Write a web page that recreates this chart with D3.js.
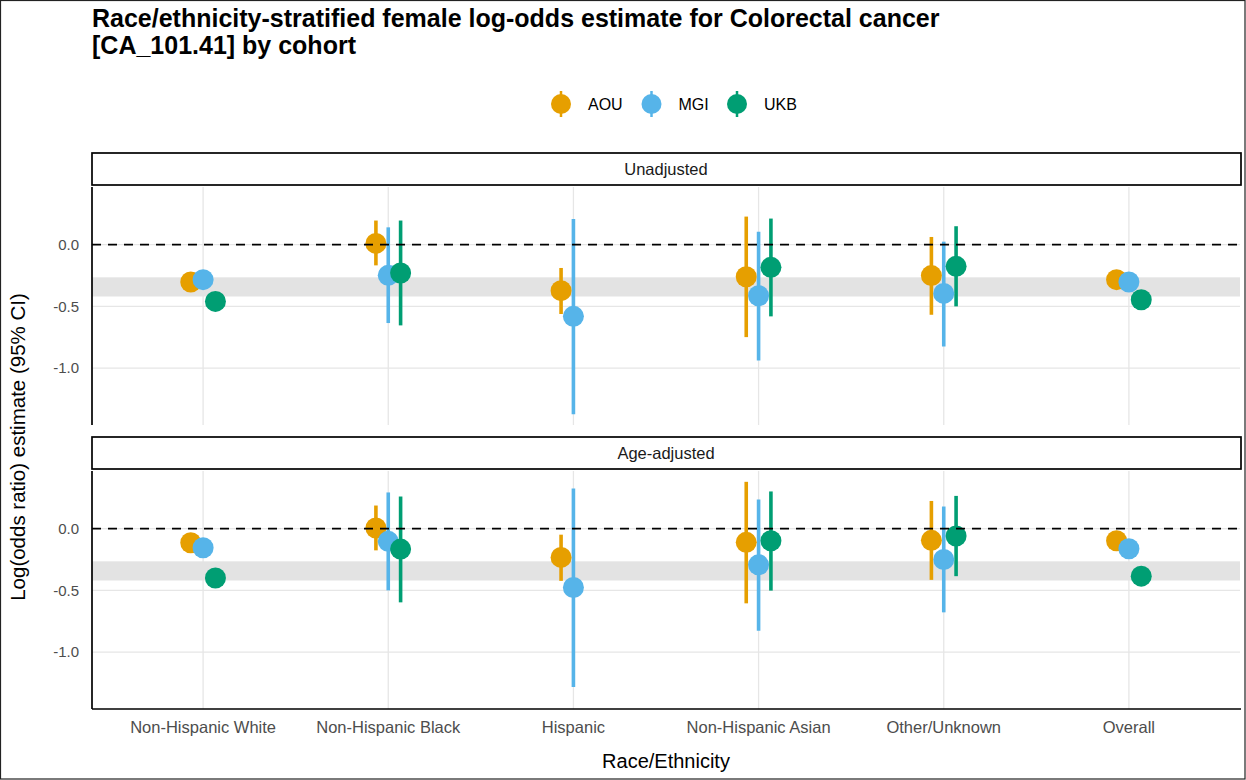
<!DOCTYPE html>
<html>
<head>
<meta charset="utf-8">
<script src="https://cdn.jsdelivr.net/npm/d3@7"></script>
<style>
  html, body { margin: 0; padding: 0; background: #fff; }
  svg { display: block; }
  text { font-family: "Liberation Sans", Arial, Helvetica, sans-serif; }
</style>
</head>
<body>
<svg id="chart" width="1246" height="780"></svg>
<script>
// ---------------- DATA ----------------
const titleLines = ["Race/ethnicity-stratified female log-odds estimate for Colorectal cancer", "[CA_101.41] by cohort"];
const categories = ["Non-Hispanic White", "Non-Hispanic Black", "Hispanic", "Non-Hispanic Asian", "Other/Unknown", "Overall"];
const cohorts = ["AOU", "MGI", "UKB"];
const cohortColors = ["#E69F00", "#56B4E9", "#009E73"];
const panels = ["Unadjusted", "Age-adjusted"];
const yTicks = [0.0, -0.5, -1.0];
const yTickLabels = ["0.0", "-0.5", "-1.0"];
const bandRange = [-0.42, -0.265];
const refLine = 0;

// Unadjusted
const unadjAOU_est = [-0.303, 0.010, -0.373, -0.260, -0.251, -0.284];
const unadjAOU_lo  = [-0.340, -0.168, -0.562, -0.749, -0.568, -0.310];
const unadjAOU_hi  = [-0.266, 0.195, -0.189, 0.227, 0.062, -0.258];
const unadjMGI_est = [-0.284, -0.249, -0.581, -0.414, -0.395, -0.303];
const unadjMGI_lo  = [-0.330, -0.635, -1.373, -0.938, -0.825, -0.330];
const unadjMGI_hi  = [-0.238, 0.140, 0.208, 0.105, 0.024, -0.276];
const unadjUKB_est = [-0.460, -0.230, null, -0.184, -0.176, -0.446];
const unadjUKB_lo  = [-0.480, -0.654, null, -0.581, -0.500, -0.466];
const unadjUKB_hi  = [-0.440, 0.195, null, 0.211, 0.149, -0.426];

// Age-adjusted
const ageAOU_est = [-0.114, 0.005, -0.233, -0.111, -0.095, -0.098];
const ageAOU_lo  = [-0.150, -0.176, -0.423, -0.605, -0.415, -0.124];
const ageAOU_hi  = [-0.078, 0.187, -0.049, 0.379, 0.224, -0.072];
const ageMGI_est = [-0.155, -0.103, -0.477, -0.293, -0.250, -0.163];
const ageMGI_lo  = [-0.200, -0.500, -1.282, -0.827, -0.678, -0.190];
const ageMGI_hi  = [-0.110, 0.293, 0.325, 0.236, 0.179, -0.136];
const ageUKB_est = [-0.400, -0.166, null, -0.098, -0.060, -0.385];
const ageUKB_lo  = [-0.420, -0.597, null, -0.502, -0.385, -0.405];
const ageUKB_hi  = [-0.380, 0.260, null, 0.301, 0.265, -0.365];

// --------------- BUILD TABLE ----------------
const seriesByPanel = [
  [[unadjAOU_est, unadjAOU_lo, unadjAOU_hi], [unadjMGI_est, unadjMGI_lo, unadjMGI_hi], [unadjUKB_est, unadjUKB_lo, unadjUKB_hi]],
  [[ageAOU_est, ageAOU_lo, ageAOU_hi], [ageMGI_est, ageMGI_lo, ageMGI_hi], [ageUKB_est, ageUKB_lo, ageUKB_hi]]
];
const rows = [];
seriesByPanel.forEach((ps, pi) => {
  ps.forEach((s, ci) => {
    categories.forEach((cat, k) => {
      if (s[0][k] === null) return;
      rows.push({ panel: pi, cohort: cohorts[ci], ci, cat, est: s[0][k], lo: s[1][k], hi: s[2][k] });
    });
  });
});

// --------------- LAYOUT ----------------
const svg = d3.select("#chart");
const W = 1246, H = 780;
const left = 92, right = 1240;
const stripH = 32;
const panelTops = [153, 437];
const panelH = 238;

svg.append("rect").attr("x", 0.5).attr("y", 0.5).attr("width", W - 1.5).attr("height", H - 1.5)
  .attr("fill", "#fff").attr("stroke", "#222").attr("stroke-width", 1.2);

// scales
const yMin = d3.min(rows, d => d.lo), yMax = d3.max(rows, d => d.hi);
const pad = (yMax - yMin) * 0.05;
const x = d3.scalePoint().domain(categories).range([left, right]).padding(0.6);
const dodge = d3.scalePoint().domain(cohorts).range([-x.step() * 0.1, x.step() * 0.1]).padding(0.5);
const color = d3.scaleOrdinal().domain(cohorts).range(cohortColors);

// title
const title = svg.append("text").attr("x", 92).attr("font-weight", "bold").attr("font-size", 25).attr("fill", "#000");
titleLines.forEach((t, i) => title.append("tspan").attr("x", 92).attr("y", 27 + i * 27).text(t));

// legend
const legendX = [561, 651.5, 737];
const lg = svg.append("g");
cohorts.forEach((c, i) => {
  const g = lg.append("g").attr("transform", `translate(${legendX[i]},104)`);
  g.append("line").attr("y1", -13).attr("y2", 13).attr("stroke", color(c)).attr("stroke-width", 2.5);
  g.append("circle").attr("r", 10).attr("fill", color(c));
  g.append("text").attr("x", 27).attr("y", 5.5).attr("font-size", 16).attr("fill", "#000").text(c);
});

panels.forEach((pname, pi) => {
  const top = panelTops[pi];
  const pTop = top + stripH + 2;
  const pBot = pTop + panelH;
  const y = d3.scaleLinear().domain([yMin - pad, yMax + pad]).range([pBot, pTop]);
  const g = svg.append("g");

  // grid
  g.selectAll(".gy").data(yTicks).join("line")
    .attr("x1", left).attr("x2", right).attr("y1", d => y(d)).attr("y2", d => y(d))
    .attr("stroke", "#e6e6e6").attr("stroke-width", 1.3);
  g.selectAll(".gx").data(categories).join("line")
    .attr("x1", d => x(d)).attr("x2", d => x(d)).attr("y1", pTop).attr("y2", pBot)
    .attr("stroke", "#e6e6e6").attr("stroke-width", 1.3);

  // band
  g.append("rect").attr("x", left).attr("width", right - left)
    .attr("y", y(bandRange[1])).attr("height", y(bandRange[0]) - y(bandRange[1]))
    .attr("fill", "#e3e3e3");

  const pr = rows.filter(d => d.panel === pi);
  // error bars
  g.selectAll(".eb").data(pr).join("line")
    .attr("x1", d => x(d.cat) + dodge(d.cohort)).attr("x2", d => x(d.cat) + dodge(d.cohort))
    .attr("y1", d => y(d.lo)).attr("y2", d => y(d.hi))
    .attr("stroke", d => color(d.cohort)).attr("stroke-width", 3.6);
  // points
  g.selectAll(".pt").data(pr).join("circle")
    .attr("cx", d => x(d.cat) + dodge(d.cohort)).attr("cy", d => y(d.est)).attr("r", 10.5)
    .attr("fill", d => color(d.cohort));

  // reference line
  g.append("line").attr("x1", left).attr("x2", right).attr("y1", y(refLine)).attr("y2", y(refLine))
    .attr("stroke", "#000").attr("stroke-width", 1.6).attr("stroke-dasharray", "9,7");

  // y axis labels
  g.selectAll(".yl").data(yTicks).join("text")
    .attr("x", 79).attr("y", d => y(d)).attr("dy", "0.35em").attr("text-anchor", "end")
    .attr("font-size", 15).attr("fill", "#4d4d4d").text((d, i) => yTickLabels[i]);

  // axis lines
  g.append("line").attr("x1", left).attr("x2", left).attr("y1", pTop).attr("y2", pBot)
    .attr("stroke", "#000").attr("stroke-width", 1.7);
  if (pi === panels.length - 1) {
    g.append("line").attr("x1", left).attr("x2", right + 1).attr("y1", pBot).attr("y2", pBot)
      .attr("stroke", "#000").attr("stroke-width", 1.7);
    g.selectAll(".xl").data(categories).join("text")
      .attr("x", d => x(d)).attr("y", pBot + 23.5).attr("text-anchor", "middle")
      .attr("font-size", 16.5).attr("fill", "#4d4d4d").text(d => d);
  }

  // strip
  g.append("rect").attr("x", left).attr("y", top).attr("width", right + 1 - left).attr("height", stripH)
    .attr("fill", "#fff").attr("stroke", "#000").attr("stroke-width", 1.7);
  g.append("text").attr("x", (left + right) / 2).attr("y", top + stripH / 2).attr("dy", "0.35em")
    .attr("text-anchor", "middle").attr("font-size", 16.5).attr("fill", "#1a1a1a").text(pname);
});

// axis titles
svg.append("text").attr("x", (left + right) / 2).attr("y", 768).attr("text-anchor", "middle")
  .attr("font-size", 20).attr("fill", "#000").text("Race/Ethnicity");
svg.append("text").attr("transform", "translate(25,447) rotate(-90)").attr("text-anchor", "middle")
  .attr("font-size", 20.5).attr("fill", "#000").text("Log(odds ratio) estimate (95% CI)");
</script>
</body>
</html>
